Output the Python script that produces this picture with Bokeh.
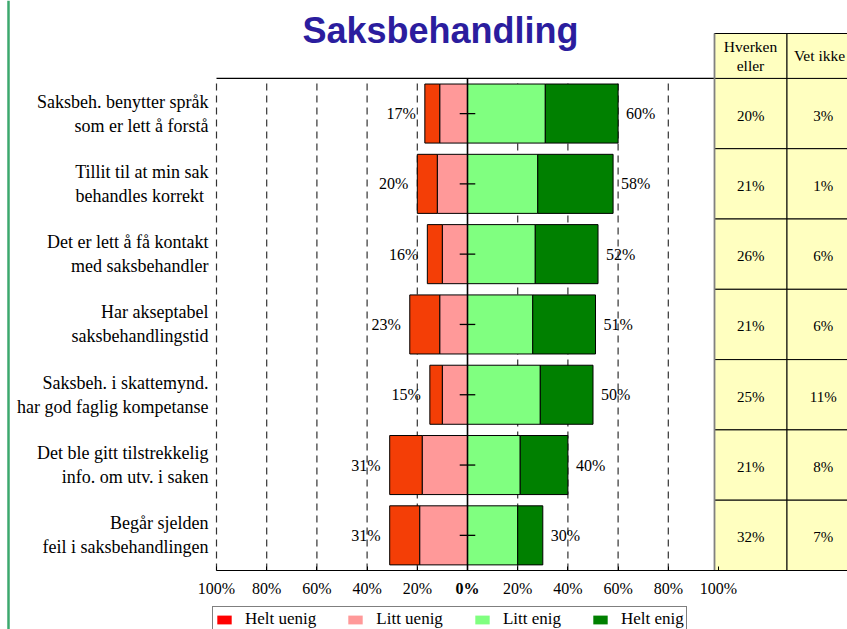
from bokeh.plotting import figure
from bokeh.models import (Range1d, FixedTicker, ColumnDataSource, Label, Legend,
                          LegendItem)
from bokeh.core.properties import value
from bokeh.embed import file_html
from bokeh.resources import INLINE

# ---------------- data ----------------
title_text = "Saksbehandling"
categories = [
    "Saksbeh. benytter språk\nsom er lett å forstå",
    "Tillit til at min sak\nbehandles korrekt ",
    "Det er lett å få kontakt\nmed saksbehandler",
    "Har akseptabel\nsaksbehandlingstid",
    "Saksbeh. i skattemynd.\nhar god faglig kompetanse",
    "Det ble gitt tilstrekkelig\ninfo. om utv. i saken",
    "Begår sjelden\nfeil i saksbehandlingen",
]
helt_uenig = [6, 8, 6, 12, 5, 13, 12]
litt_uenig = [11, 12, 10, 11, 10, 18, 19]
litt_enig = [31, 28, 27, 26, 29, 21, 20]
helt_enig = [29, 30, 25, 25, 21, 19, 10]
hverken = [20, 21, 26, 21, 25, 21, 32]
vet_ikke = [3, 1, 6, 6, 11, 8, 7]
table_headers = ["Hverken\neller", "Vet ikke"]
legend_labels = ["Helt uenig", "Litt uenig", "Litt enig", "Helt enig"]
x_ticks = [-100, -80, -60, -40, -20, 0, 20, 40, 60, 80, 100]
x_tick_labels = ["100%", "80%", "60%", "40%", "20%", "0%",
                 "20%", "40%", "60%", "80%", "100%"]

# ---------------- styles ----------------
BAR_COLORS = ["#F43E06", "#FF9999", "#80FF80", "#008000"]
LEGEND_COLORS = ["#FF0000", "#FF9999", "#80FF80", "#008000"]
SERIF = "Liberation Serif"
TABLE_FILL = "#FFFFC0"

W, HGT = 847, 629
PX_X = 2.51          # px per percent
ZERO_X = 467         # px of 0 %
PX_Y = 70.3          # px per row
BASE_Y = 570         # px of plot bottom (y = 0.5)


def dx(px):
    return (px - ZERO_X) / PX_X


def dy(py):
    return 0.5 + (BASE_Y - py) / PX_Y


n = len(categories)
ypos = [n - i for i in range(n)]          # top row at y = n

neg_total = [a + b for a, b in zip(helt_uenig, litt_uenig)]
pos_total = [a + b for a, b in zip(litt_enig, helt_enig)]

src = ColumnDataSource(dict(
    y=ypos,
    hu_l=[-t for t in neg_total], hu_r=[-b for b in litt_uenig],
    lu_l=[-b for b in litt_uenig], lu_r=[0] * n,
    le_l=[0] * n, le_r=litt_enig,
    he_l=litt_enig, he_r=pos_total,
    neg_x=[-t for t in neg_total], neg_txt=[f"{t}%" for t in neg_total],
    pos_x=pos_total, pos_txt=[f"{t}%" for t in pos_total],
))

p = figure(width=W, height=HGT,
           x_range=Range1d(dx(0), dx(W)), y_range=Range1d(dy(HGT), dy(0)),
           output_backend="svg", toolbar_location=None,
           min_border_left=0, min_border_right=0,
           min_border_top=0, min_border_bottom=0)
p.outline_line_color = None
p.background_fill_color = "white"
p.border_fill_color = "white"
p.xgrid.grid_line_color = None
p.ygrid.grid_line_color = None

# dashed vertical gridlines inside the plot area only
grid_x = [t for t in x_ticks if t != 0]
p.segment(x0=grid_x, y0=[0.5] * len(grid_x), x1=grid_x, y1=[n + 0.5] * len(grid_x),
          line_color="#333333", line_dash="7 5", line_width=1.2)

# bars
H = 0.84
pairs = [("hu_l", "hu_r"), ("lu_l", "lu_r"), ("le_l", "le_r"), ("he_l", "he_r")]
for (l, r), c in zip(pairs, BAR_COLORS):
    p.hbar(y="y", left=l, right=r, height=H, fill_color=c,
           line_color="black", line_width=1, source=src)

# zero line and cross ticks
p.segment(x0=[0], y0=[0.5], x1=[0], y1=[n + 0.5], line_color="black", line_width=1.6)
p.segment(x0=[-3.1] * n, y0=ypos, x1=[3.1] * n, y1=ypos, line_color="black", line_width=1.3)
# top border of plot area
p.segment(x0=[-100], y0=[n + 0.5], x1=[dx(714)], y1=[n + 0.5], line_color="black", line_width=1.2)

# value labels
p.text(x="neg_x", y="y", text="neg_txt", source=src, x_offset=-9,
       text_align="right", text_baseline="middle",
       text_font=value(SERIF), text_font_size="16px", text_color="black")
p.text(x="pos_x", y="y", text="pos_txt", source=src, x_offset=8,
       text_align="left", text_baseline="middle",
       text_font=value(SERIF), text_font_size="16px", text_color="black")

# table at right
col_edges = [dx(714), dx(786.5), dx(859)]
header_top = dy(33)
header_x = [dx(750), dx(819)]
for ci, vals in enumerate([hverken, vet_ikke]):
    xl, xr = col_edges[ci], col_edges[ci + 1]
    p.quad(left=[xl] * (n + 1), right=[xr] * (n + 1),
           bottom=[y - 0.5 for y in ypos] + [n + 0.5],
           top=[y + 0.5 for y in ypos] + [header_top],
           fill_color=TABLE_FILL, line_color="black", line_width=1)
    xc = (xl + xr) / 2
    p.text(x=[xc] * n, y=ypos, text=[f"{v}%" for v in vals], y_offset=2,
           text_align="center", text_baseline="middle",
           text_font=value(SERIF), text_font_size="15px", text_color="black")
    p.text(x=[header_x[ci]], y=[(n + 0.5 + header_top) / 2], text=[table_headers[ci]],
           text_align="center", text_baseline="middle", text_line_height=1.1,
           text_font=value(SERIF), text_font_size="15.5px", text_color="black")
p.segment(x0=[dx(714)], y0=[0.5], x1=[dx(714)], y1=[header_top],
          line_color="#808080", line_width=1.8)

# green rule at page left
p.segment(x0=[dx(8)], y0=[dy(HGT)], x1=[dx(8)], y1=[dy(0)],
          line_color="#3CA86E", line_width=2.5)

# axes (drawn at fixed places inside the canvas)
xa = p.xaxis[0]
xa.fixed_location = 0.5
xa.ticker = FixedTicker(ticks=x_ticks)
xa.major_label_overrides = {t: (lab if t != 0 else "") for t, lab in zip(x_ticks, x_tick_labels)}
xa.bounds = (-100, 100)
xa.axis_line_color = "black"
xa.axis_line_width = 1.2
xa.major_tick_in = 4
xa.major_tick_out = 0
xa.minor_tick_line_color = None
xa.major_label_standoff = 9
xa.major_label_text_font = SERIF
xa.major_label_text_font_size = "16px"
xa.major_label_text_color = "black"

p.add_layout(Label(x=0, y=0.5, y_offset=-9, text=x_tick_labels[x_ticks.index(0)],
                   text_align="center", text_baseline="top",
                   text_font=SERIF, text_font_size="16px", text_font_style="bold",
                   text_color="black"))

ya = p.yaxis[0]
ya.fixed_location = dx(209)
ya.ticker = FixedTicker(ticks=ypos)
ya.major_label_overrides = {y: c for y, c in zip(ypos, categories)}
ya.axis_line_color = None
ya.major_tick_line_color = None
ya.minor_tick_line_color = None
ya.major_tick_in = 0
ya.major_tick_out = 0
ya.major_label_standoff = 1
ya.major_label_text_font = SERIF
ya.major_label_text_font_size = "18px"
ya.major_label_text_color = "black"

# title
p.add_layout(Label(x=dx(440), y=dy(30), text=title_text, text_align="center",
                   text_baseline="middle", text_font="Liberation Sans",
                   text_font_style="bold", text_font_size="36px", text_color="#2B1D9E"))

# legend (swatches use legend colours; dummy marks lie outside the view)
items = []
for lab, c in zip(legend_labels, LEGEND_COLORS):
    r = p.hbar(y=[-50], left=[0], right=[1], height=0.5, fill_color=c, line_color=None)
    items.append(LegendItem(label=lab, renderers=[r]))
legend = Legend(items=items, orientation="horizontal", location=(212, -3),
                border_line_color="black", border_line_width=1.5,
                background_fill_color="white", background_fill_alpha=1,
                padding=2, spacing=30, label_standoff=12, margin=0,
                glyph_width=18, glyph_height=11,
                label_text_font=SERIF, label_text_font_size="17px",
                label_text_color="black")
p.add_layout(legend)

open("out.html", "w").write(file_html(p, INLINE))
